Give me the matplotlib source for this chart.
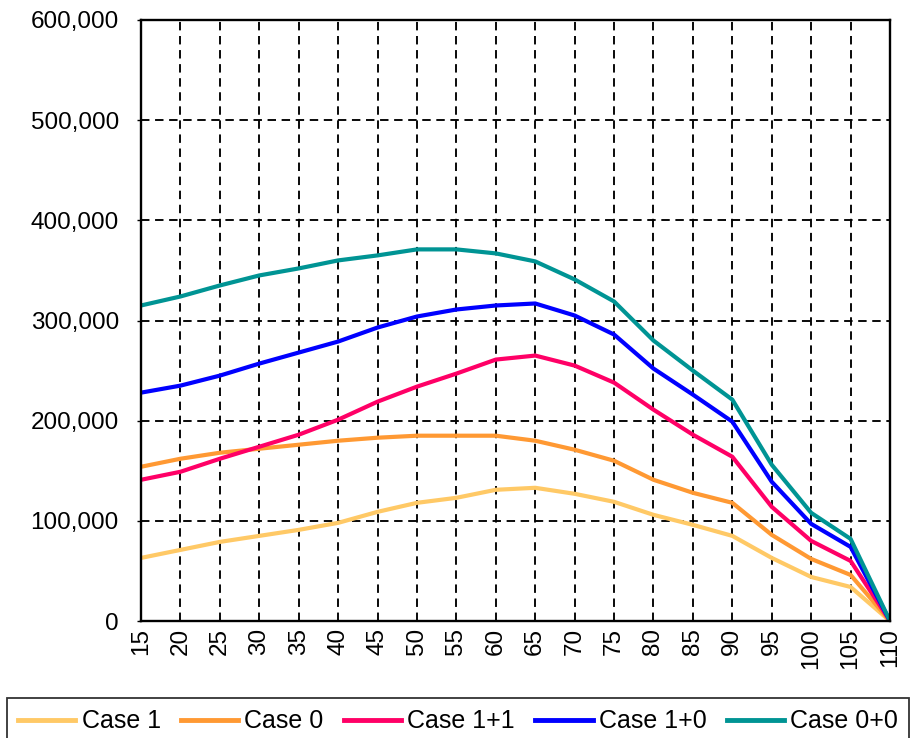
import matplotlib.pyplot as plt
from matplotlib.ticker import FuncFormatter

plt.rcParams['font.family'] = ['Liberation Sans', 'DejaVu Sans']

ages = [15, 20, 25, 30, 35, 40, 45, 50, 55, 60, 65, 70, 75, 80, 85, 90, 95, 100, 105, 110]

case_1 = [63000, 71000, 79000, 85000, 91000, 98000, 109000, 118000, 123000, 131000,
          133000, 127000, 119000, 106000, 96000, 85000, 63000, 44000, 34000, 0]
case_0 = [154000, 162000, 168000, 172000, 176000, 180000, 183000, 185000, 185000, 185000,
          180000, 171000, 160000, 141000, 128000, 118000, 86000, 62000, 46000, 0]
case_1p1 = [141000, 149000, 162000, 174000, 186000, 201000, 219000, 234000, 247000, 261000,
            265000, 255000, 238000, 211000, 186000, 164000, 114000, 80000, 60000, 0]
case_1p0 = [228000, 235000, 245000, 257000, 268000, 279000, 293000, 304000, 311000, 315000,
            317000, 305000, 286000, 252000, 226000, 199000, 139000, 97000, 74000, 0]
case_0p0 = [315000, 324000, 335000, 345000, 352000, 360000, 365000, 371000, 371000, 367000,
            359000, 341000, 319000, 280000, 250000, 221000, 156000, 108000, 82000, 0]

names = ['Case 1', 'Case 0', 'Case 1+1', 'Case 1+0', 'Case 0+0']
colors = ['#FFC966', '#FF9933', '#FF0066', '#0000FF', '#009494']
series = [case_1, case_0, case_1p1, case_1p0, case_0p0]

fig = plt.figure(figsize=(9.2, 7.38), dpi=100)
ax = fig.add_axes([0.1533, 0.1585, 0.8141, 0.8144])

pos = list(range(len(ages)))
for vals, name, col in zip(series, names, colors):
    ax.plot(pos, vals, color=col, lw=3.0, label=name)

ax.set_xlim(0, len(ages) - 1)
ax.set_ylim(0, 600000)
ax.set_yticks(range(0, 600001, 100000))
ax.yaxis.set_major_formatter(FuncFormatter(lambda v, p: f'{int(v):,}'))
ax.set_xticks(pos)
ax.set_xticklabels([str(a) for a in ages], rotation=90)
ax.tick_params(axis='x', length=0, pad=5, labelsize=17.5)
ax.tick_params(axis='y', length=3, width=1, labelsize=17.5, pad=13)

# dashed black grid on every category and every 100,000
ax.grid(True, color='black', linestyle=(0, (4.5, 3)), linewidth=1.35)
for s in ax.spines.values():
    s.set_color('black')
    s.set_linewidth(1.7)

leg = fig.legend(loc='upper center', bbox_to_anchor=(458 / 920, 1 - 698 / 738), ncol=5,
                 fontsize=18, frameon=True, fancybox=False, edgecolor='black',
                 handlelength=2.3, handletextpad=0.25, columnspacing=0.8,
                 borderpad=0.45, borderaxespad=0)
leg.get_frame().set_linewidth(1.3)
for h in leg.get_lines():
    h.set_linewidth(3.5)

fig.savefig('out.png', dpi=100)
